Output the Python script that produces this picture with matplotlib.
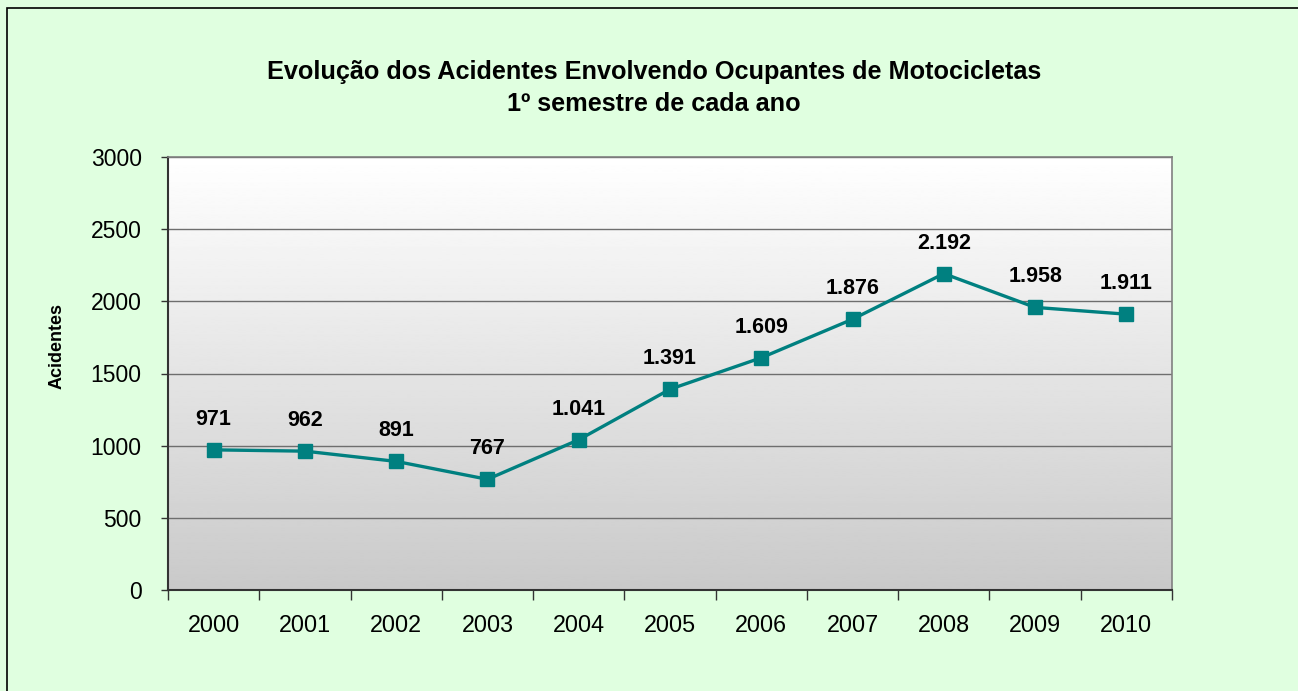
import matplotlib
matplotlib.use("Agg")
import matplotlib.pyplot as plt
import numpy as np
from matplotlib.patches import Rectangle

anos = ["2000", "2001", "2002", "2003", "2004", "2005", "2006", "2007", "2008", "2009", "2010"]
acidentes = [971, 962, 891, 767, 1041, 1391, 1609, 1876, 2192, 1958, 1911]
yticks = [0, 500, 1000, 1500, 2000, 2500, 3000]

W, H = 1298, 691
plt.rcParams['font.family'] = ['Liberation Sans', 'DejaVu Sans']

fig = plt.figure(figsize=(W / 100, H / 100), dpi=100)
fig.patch.set_facecolor('#E0FFE0')

# moldura preta (so aparecem os lados esquerdo e superior)
fig.patches.append(Rectangle((7 / W, 0 - 0.05), 1.2, 1 - 8 / H + 0.05,
                             transform=fig.transFigure, fill=False,
                             edgecolor='black', linewidth=1.2, zorder=0))

ax = fig.add_axes([168 / W, (H - 590) / H, 1004 / W, (590 - 157) / H])
x = np.arange(len(anos))
ax.set_xlim(-0.5, len(anos) - 0.5)
ax.set_ylim(0, 3000)

# fundo em degradê branco -> cinza
grad = np.linspace(1.0, 0.79, 256).reshape(-1, 1)
ax.imshow(grad, cmap='gray', vmin=0, vmax=1, aspect='auto',
          extent=(-0.5, len(anos) - 0.5, 0, 3000), zorder=0, interpolation='bilinear')

for v in yticks[1:]:
    ax.axhline(v, color='#6e6e6e', linewidth=1.0, zorder=1)

ax.plot(x, acidentes, color='#008080', linewidth=2.4, marker='s',
        markersize=10, markerfacecolor='#008080', markeredgecolor='#008080', zorder=3)

for xi, v in zip(x, acidentes):
    txt = f"{v:,}".replace(",", ".")
    ax.annotate(txt, (xi, v), xytext=(0, 22), textcoords='offset points',
                ha='center', va='center', fontsize=15.5, fontweight='bold', color='black')

ax.set_yticks(yticks)
ax.set_yticklabels([str(v) for v in yticks], fontsize=16.5)
ax.set_xticks(x)
ax.set_xticklabels(anos, fontsize=16.8)
ax.set_xticks(np.arange(len(anos) + 1) - 0.5, minor=True)
ax.tick_params(axis='x', which='major', length=0, pad=17)
ax.tick_params(axis='x', which='minor', length=7, width=1, color='#333333')
ax.tick_params(axis='y', length=5, width=1, color='#333333', pad=14)

for s in ['left', 'bottom']:
    ax.spines[s].set_color('#333333')
    ax.spines[s].set_linewidth(1.5)
for s in ['top', 'right']:
    ax.spines[s].set_color('#808080')
    ax.spines[s].set_linewidth(1.2)

fig.text(57 / W, 1 - 346 / H, "Acidentes", rotation=90, ha='center', va='center',
         fontsize=13, fontweight='bold')

fig.text(654 / W, 1 - 79 / H, "Evolução dos Acidentes Envolvendo Ocupantes de Motocicletas",
         ha='center', va='baseline', fontsize=18.2, fontweight='bold')
fig.text(654 / W, 1 - 111 / H, "1º semestre de cada ano",
         ha='center', va='baseline', fontsize=18.2, fontweight='bold')

fig.savefig("out.png", dpi=100, facecolor=fig.get_facecolor())
